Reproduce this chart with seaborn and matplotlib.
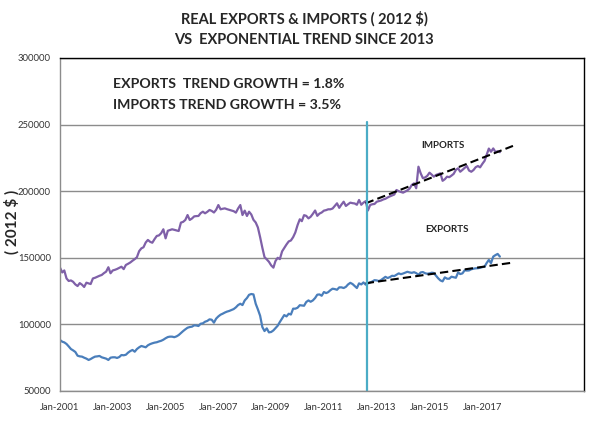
import numpy as np
import pandas as pd
import matplotlib
matplotlib.use('Agg')
import matplotlib.pyplot as plt
import seaborn as sns

# monthly values, Jan 2001 onwards (2012 $)
imports_2001 = [142600, 139000, 140500, 134500, 132600, 133000, 132000, 130000, 128800, 131000, 129800, 128100]
imports_2002 = [131300, 130800, 130300, 134500, 135000, 135800, 136500, 137100, 138500, 139600, 142900, 138400]
imports_2003 = [140500, 141000, 141600, 142500, 143300, 141500, 144600, 145500, 146500, 147800, 149000, 150400]
imports_2004 = [155000, 157100, 157900, 161500, 163400, 162000, 161300, 164000, 166400, 166800, 168500, 171400]
imports_2005 = [164600, 170300, 170800, 171400, 171000, 170500, 170100, 176400, 177000, 178400, 182100, 178400]
imports_2006 = [179500, 181100, 181300, 181400, 183500, 184600, 183400, 184500, 185900, 185200, 184000, 186000]
imports_2007 = [189600, 186400, 186800, 187100, 186500, 186000, 185500, 185000, 183900, 187000, 189600, 182100]
imports_2008 = [185400, 181400, 184600, 182500, 178500, 176500, 172800, 165500, 157500, 150500, 148800, 147000]
imports_2009 = [144300, 142600, 147500, 150000, 149000, 154800, 157300, 160000, 162300, 163000, 165500, 169000]
imports_2010 = [174500, 178900, 177500, 182000, 181500, 179600, 180800, 183000, 185500, 181500, 183200, 184000]
imports_2011 = [185400, 185800, 186400, 186400, 187000, 189000, 190900, 187500, 190000, 192100, 188900, 190200]
imports_2012 = [191400, 191000, 190800, 189800, 193400, 189800, 191400, 192500, 185500, 189600, 190200, 190400]
imports_2013 = [192100, 192600, 193000, 193800, 194300, 195300, 196100, 196800, 197500, 200900, 200000, 199400]
imports_2014 = [198900, 199800, 200600, 202000, 204700, 205900, 202200, 218400, 213400, 209800, 210300, 211500]
imports_2015 = [213900, 212400, 210900, 212200, 212800, 213400, 207800, 209000, 210900, 210500, 211700, 213000]
imports_2016 = [216000, 217200, 214600, 216000, 217500, 218900, 215500, 214600, 215900, 218000, 218900, 217900]
imports_2017 = [220500, 222800, 227200, 232000, 229600, 232100, 229500, 230000, 229300]

exports_2001 = [88300, 87000, 86500, 85300, 83500, 81500, 80500, 79300, 76500, 76000, 75800, 75000]
exports_2002 = [74300, 73300, 74000, 75000, 75800, 76000, 76300, 75300, 74800, 74300, 73300, 75000]
exports_2003 = [75300, 75300, 74800, 75500, 77000, 76800, 77200, 78800, 80000, 80800, 79500, 81500]
exports_2004 = [82800, 83800, 83300, 82800, 84300, 85200, 85800, 86300, 86600, 87200, 87700, 88500]
exports_2005 = [89600, 90500, 90800, 90800, 90400, 91000, 92000, 93500, 95000, 96300, 97500, 98000]
exports_2006 = [98300, 99300, 99200, 98800, 100500, 100800, 102000, 102600, 103800, 103500, 101300, 104300]
exports_2007 = [106000, 107300, 108000, 108900, 109600, 110100, 110800, 111500, 112800, 114500, 115500, 114500]
exports_2008 = [118000, 119800, 122200, 122800, 122500, 115500, 111300, 106500, 98000, 95000, 97000, 94000]
exports_2009 = [94300, 95500, 97200, 99000, 101800, 104500, 107000, 106000, 108000, 107400, 111800, 111800]
exports_2010 = [112500, 114400, 114200, 114000, 116800, 118000, 117000, 118000, 119800, 122300, 122500, 121500]
exports_2011 = [124300, 123500, 124200, 125700, 126800, 126500, 126000, 127800, 127800, 127300, 128200, 130000]
exports_2012 = [131200, 130300, 128800, 127300, 130800, 130000, 131500, 129800, 130800, 131500, 132200, 133200]
exports_2013 = [133000, 132500, 133300, 134500, 135700, 134800, 135500, 136500, 136300, 137300, 138300, 137700]
exports_2014 = [138200, 138900, 139500, 139000, 138700, 139200, 138500, 137200, 139000, 139300, 138400, 138000]
exports_2015 = [138300, 138800, 138600, 136600, 134600, 133000, 132300, 135300, 134300, 134300, 135800, 135400]
exports_2016 = [135000, 139000, 137800, 138300, 140600, 140400, 140500, 141400, 141800, 142100, 142200, 142500]
exports_2017 = [143000, 143300, 146000, 148400, 146000, 150900, 152000, 152900, 150900]

# exponential trend since 2013 (end points)
trend_dates = ['2012-08-01', '2018-03-01']
imports_trend = [190900, 234000]
exports_trend = [130900, 146400]
break_date = '2012-08-15'

imports = (imports_2001 + imports_2002 + imports_2003 + imports_2004 + imports_2005 + imports_2006
           + imports_2007 + imports_2008 + imports_2009 + imports_2010 + imports_2011 + imports_2012
           + imports_2013 + imports_2014 + imports_2015 + imports_2016 + imports_2017)
exports = (exports_2001 + exports_2002 + exports_2003 + exports_2004 + exports_2005 + exports_2006
           + exports_2007 + exports_2008 + exports_2009 + exports_2010 + exports_2011 + exports_2012
           + exports_2013 + exports_2014 + exports_2015 + exports_2016 + exports_2017)

dates = pd.date_range('2001-01-01', periods=len(imports), freq='MS')
df = pd.DataFrame({'date': dates, 'imports': imports, 'exports': exports})
trend = pd.DataFrame({'date': pd.to_datetime(trend_dates), 'imports': imports_trend, 'exports': exports_trend})

sns.set_style('white')
plt.rcParams['font.family'] = ['Lato', 'DejaVu Sans']

fig = plt.figure(figsize=(6.05, 4.42), dpi=100)
ax = fig.add_axes([0.0992, 0.1154, 0.8661, 0.7534])

sns.lineplot(data=df, x='date', y='imports', ax=ax, color='#7f60a8', linewidth=1.6)
sns.lineplot(data=df, x='date', y='exports', ax=ax, color='#4a7ebb', linewidth=1.6)
sns.lineplot(data=trend, x='date', y='imports', ax=ax, color='black', linewidth=1.5, linestyle=(0, (4, 2)))
sns.lineplot(data=trend, x='date', y='exports', ax=ax, color='black', linewidth=1.5, linestyle=(0, (4, 2)))

ax.axvline(pd.Timestamp(break_date), ymin=0, ymax=0.808, color='#4bacc6', linewidth=1.6)

ax.set_ylim(50000, 300000)
ax.set_yticks(range(50000, 300001, 50000))
ax.set_xlim(pd.Timestamp('2001-01-01'), pd.Timestamp('2020-11-08'))
ticks = pd.to_datetime(['2001-01-01', '2003-01-01', '2005-01-01', '2007-01-01', '2009-01-01',
                        '2011-01-01', '2013-01-01', '2015-01-01', '2017-01-01', '2019-01-01'])
ax.set_xticks(ticks)
ax.set_xticklabels([d.strftime('Jan-%Y') for d in ticks[:-1]] + [''])

ax.yaxis.grid(True, color='#8c8c8c', linewidth=1)
ax.xaxis.grid(False)
ax.tick_params(axis='both', labelsize=6.8, colors='#333333', length=3, width=0.8, direction='out')
ax.tick_params(axis='x', pad=6)
for s in ['left', 'bottom']:
    ax.spines[s].set_color('#8c8c8c')
for s in ['top', 'right']:
    ax.spines[s].set_color('black')
for s in ax.spines.values():
    s.set_linewidth(1)
ax.set_xlabel('')
ax.set_ylabel('')

fig.text(0.503, 0.957, 'REAL EXPORTS & IMPORTS ( 2012 $)', ha='center', va='center',
         fontsize=10.5, fontweight='bold')
fig.text(0.503, 0.909, 'VS  EXPONENTIAL TREND SINCE 2013', ha='center', va='center',
         fontsize=10.5, fontweight='bold')
fig.text(0.019, 0.498, '( 2012 $ )', rotation=90, ha='center', va='center',
         fontsize=11, fontweight='bold')

ax.text(0.101, 0.922, 'EXPORTS  TREND GROWTH = 1.8%', transform=ax.transAxes, ha='left', va='center',
        fontsize=10.2, fontweight='bold')
ax.text(0.101, 0.858, 'IMPORTS TREND GROWTH = 3.5%', transform=ax.transAxes, ha='left', va='center',
        fontsize=10.2, fontweight='bold')
ax.text(pd.Timestamp('2015-07-01'), 234000, 'IMPORTS', ha='center', va='center',
        fontsize=7, fontweight='bold')
ax.text(pd.Timestamp('2015-09-01'), 171000, 'EXPORTS', ha='center', va='center',
        fontsize=7, fontweight='bold')

fig.savefig('out.png', dpi=100)
plt.close()
